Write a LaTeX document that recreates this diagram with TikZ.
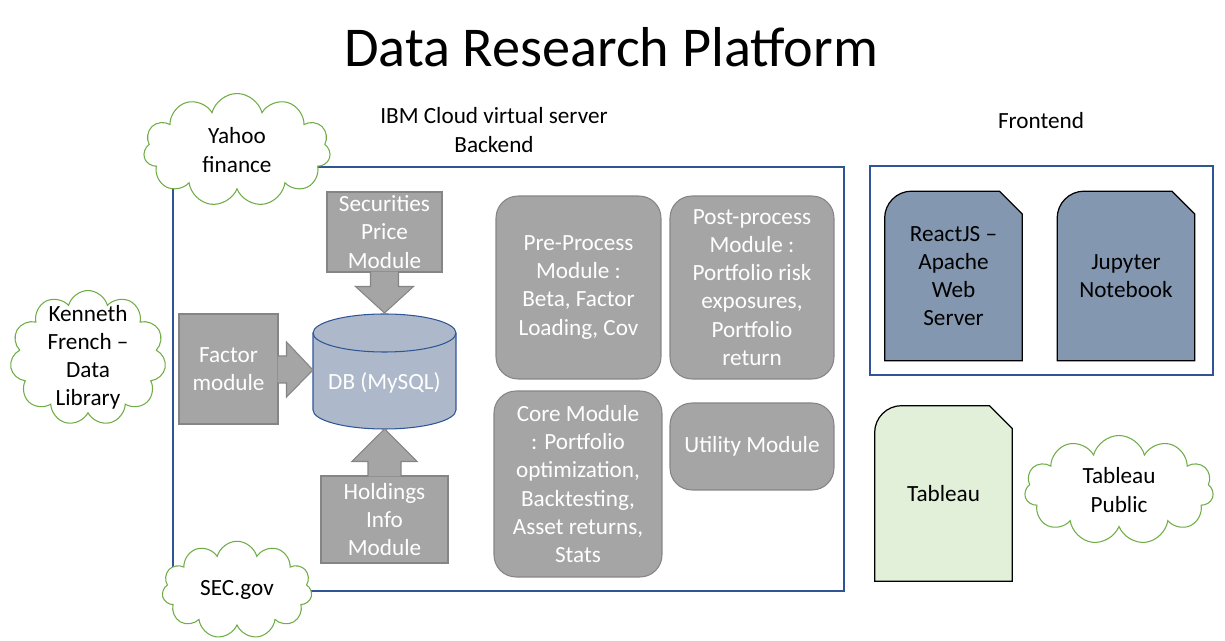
\documentclass[tikz,border=0pt]{standalone}
\usepackage{fontspec}
\setmainfont{Carlito}
\usetikzlibrary{positioning,shapes.symbols,backgrounds}
\definecolor{frameblue}{HTML}{2F5597}
\definecolor{boxgray}{HTML}{A5A5A5}
\definecolor{edgegray}{HTML}{858585}
\definecolor{cloudgreen}{HTML}{70AD47}
\definecolor{dbblue}{HTML}{ADB9CA}
\definecolor{docblue}{HTML}{8497B0}
\definecolor{docgreen}{HTML}{E2F0D9}
\newcommand{\bodytext}{\fontsize{13.2}{16}\selectfont}
\tikzset{
  module/.style={rectangle,draw=edgegray,fill=boxgray,line width=0.6pt,text=white,align=center,font=\bodytext,inner sep=0pt},
  roundmodule/.style={module,rounded corners=0.44cm},
  callout/.style={draw=edgegray,fill=boxgray,line width=0.6pt},
  frame/.style={rectangle,draw=frameblue,line width=0.7pt,inner sep=0pt},
  source/.style={cloud,cloud puffs=11,cloud ignores aspect,draw=cloudgreen,fill=white,line width=0.6pt,align=center,font=\bodytext,inner sep=0pt},
  docbox/.style={rectangle,draw=none,align=center,font=\bodytext,inner sep=0pt}
}
% page shape round the text of a node, raised by #3
\newcommand{\docshape}[3]{%
  \begin{pgfonlayer}{background}
  \begin{scope}[yshift=#3]
  \filldraw[draw=black,line width=0.7pt,fill=#2] (#1.south west) -- ([yshift=-0.54cm]#1.north west)
    arc[start angle=180,end angle=90,radius=0.54cm] -- ([xshift=-0.46cm]#1.north east)
    -- ([yshift=-0.46cm]#1.north east) -- (#1.south east) -- cycle;
  \end{scope}
  \end{pgfonlayer}}

\begin{document}
\begin{tikzpicture}[x=0.02cm,y=0.02cm]
\useasboundingbox (0,0) rectangle (1225,-641);
% \draw[help lines,step=50] (0,0) grid (1225,-641);
\node (title) [font=\fontsize{32}{38}\selectfont] at (611,-47) {Data Research Platform};
\node (backlabel) [align=center,font=\bodytext] at (494,-130) {IBM Cloud virtual server\\Backend};
\node (frontlabel) [font=\bodytext] at (1041,-121) {Frontend};
%
\node (backend) [frame,minimum width=13.42cm,minimum height=8.48cm] at (508.5,-379) {};
\node (frontend) [frame,minimum width=6.86cm,minimum height=4.18cm] at (1041.5,-270.5) {};
%
\node (yahoo) [source,minimum width=3.74cm,minimum height=2.26cm] at (237,-150) {Yahoo\\finance};
\node (kenneth) [source,minimum width=3.12cm,minimum height=2.7cm] at (88,-358) {};
\node (kennethtext) [align=center,font=\bodytext] at (88,-357) {Kenneth\\French --\\Data\\Library};
\node (sec) [source,minimum width=3.0cm,minimum height=1.95cm] at (237,-590) {SEC.gov};
\node (tabpub) [source,minimum width=3.78cm,minimum height=2.18cm] at (1119,-490) {Tableau\\Public};
%
\coordinate (dbtop) at (384.5,-313);
\coordinate (dbleft) at (313,-370);
\coordinate (dbbottom) at (384.5,-429);
\filldraw[draw=frameblue,fill=dbblue,line width=0.6pt] (313,-333) -- (313,-410)
  arc[start angle=180,end angle=360,x radius=1.43cm,y radius=0.38cm] -- (456,-333)
  arc[start angle=0,end angle=180,x radius=1.43cm,y radius=0.38cm] -- cycle;
\draw[frameblue,line width=0.6pt] (313,-333) arc[start angle=180,end angle=360,x radius=1.43cm,y radius=0.38cm];
\node (db) [text=white,font=\bodytext] at (384.5,-383) {DB (MySQL)};
%
\node (secprice) [module,minimum width=2.3cm,minimum height=1.6cm] at (384.5,-232) {Securities\\Price\\Module};
\node (factor) [module,minimum width=1.98cm,minimum height=2.2cm] at (228.5,-369) {Factor\\module};
\node (holdings) [module,minimum width=2.54cm,minimum height=1.74cm] at (384.5,-519.5) {Holdings\\Info\\Module};
\filldraw[callout] ([shift={(-14,1)}]secprice.south) -- ([shift={(-14,-14)}]secprice.south)
  -- ([shift={(-29,-14)}]secprice.south) -- (dbtop) -- ([shift={(29,-14)}]secprice.south)
  -- ([shift={(14,-14)}]secprice.south) -- ([shift={(14,1)}]secprice.south);
\filldraw[callout] ([shift={(-1,13)}]factor.east) -- ([shift={(8,13)}]factor.east)
  -- ([shift={(8,27)}]factor.east) -- (dbleft) -- ([shift={(8,-28)}]factor.east)
  -- ([shift={(8,-14)}]factor.east) -- ([shift={(-1,-14)}]factor.east);
\filldraw[callout] ([shift={(-16.5,-1)}]holdings.north) -- ([shift={(-16.5,14)}]holdings.north)
  -- ([shift={(-32.5,14)}]holdings.north) -- (dbbottom) -- ([shift={(32.5,14)}]holdings.north)
  -- ([shift={(16.5,14)}]holdings.north) -- ([shift={(16.5,-1)}]holdings.north);
%
\node (pre) [roundmodule,minimum width=3.3cm,minimum height=3.66cm] at (578.5,-287.5) {Pre-Process\\Module :\\Beta, Factor\\Loading, Cov};
\node (post) [roundmodule,minimum width=3.28cm,minimum height=3.66cm] at (752,-287.5) {Post-process\\Module :\\Portfolio risk\\exposures,\\Portfolio\\return};
\node (core) [roundmodule,minimum width=3.36cm,minimum height=3.72cm] at (578,-484) {Core Module\\: Portfolio\\optimization,\\Backtesting,\\Asset returns,\\Stats};
\node (util) [roundmodule,minimum width=3.28cm,minimum height=1.74cm] at (752,-446.5) {Utility Module};
%
\node (react) [docbox,minimum width=2.74cm,minimum height=3.38cm] at (953.5,-276) {ReactJS --\\Apache\\Web\\Server};
\node (jupyter) [docbox,minimum width=2.74cm,minimum height=3.38cm] at (1126,-276) {Jupyter\\Notebook};
\node (tableau) [docbox,minimum width=2.74cm,minimum height=3.5cm] at (943.5,-493.5) {Tableau};
\docshape{react}{docblue}{0.09cm}
\docshape{jupyter}{docblue}{0.09cm}
\docshape{tableau}{docgreen}{0.08cm}
\end{tikzpicture}
\end{document}
